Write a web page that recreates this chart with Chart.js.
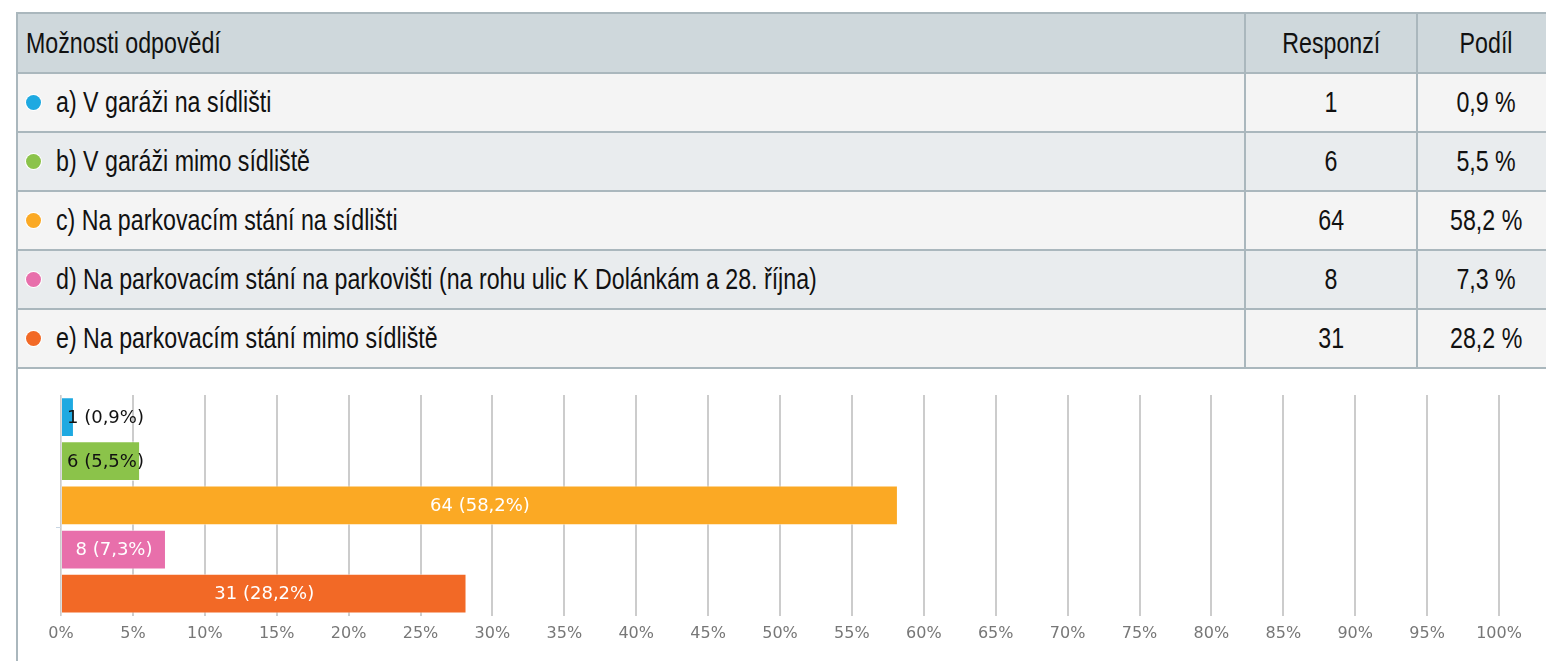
<!DOCTYPE html>
<html>
<head>
<meta charset="utf-8">
<script src="https://cdn.jsdelivr.net/npm/chart.js@4.4.1/dist/chart.umd.min.js"></script>
<style>
    body { margin: 0; background: #fff; width: 1546px; height: 661px; overflow: hidden; position: relative; }
    #tbl {
        position: absolute; left: 16px; top: 12px; width: 1540px;
        border-collapse: collapse;
        font-family: "Liberation Sans", Arial, sans-serif;
        font-size: 29px; color: #111;
    }
    #tbl th, #tbl td { border: 2px solid #aab7bd; padding: 0 8px; font-weight: normal; white-space: nowrap; }
    #tbl th { background: #cfd8dc; height: 58px; text-align: left; }
    #tbl td { height: 57px; }
    #tbl tr:nth-child(odd) td { background: #f4f4f4; }
    #tbl tr:nth-child(even) td { background: #e9ecee; }
    #tbl .num { text-align: center; }
    .nar { display: inline-block; transform: scaleX(0.8); transform-origin: left center; }
    .num .nar { transform-origin: center center; }
    .dot { display: inline-block; width: 15px; height: 15px; border-radius: 50%; margin: 0 15px 0 0; vertical-align: 2px; box-shadow: 0 0 0 1px #fff; }
    #box { position: absolute; left: 16px; top: 368px; width: 1530px; height: 293px; border-left: 2px solid #aab7bd; }
    #wrap { position: absolute; left: 18px; top: 370px; width: 1528px; height: 291px; }
</style>
</head>
<body>
<table id="tbl"><thead><tr><th><span class="nar">Možnosti odpovědí</span></th><th class="num" style="width:154px"><span class="nar">Responzí</span></th><th class="num" style="width:120px"><span class="nar">Podíl</span></th></tr></thead><tbody></tbody></table>
<div id="box"></div>
<div id="wrap"><canvas id="answersChart"></canvas></div>
<script>
// Survey data
const categories = [
    'a) V garáži na sídlišti',
    'b) V garáži mimo sídliště',
    'c) Na parkovacím stání na sídlišti',
    'd) Na parkovacím stání na parkovišti (na rohu ulic K Dolánkám a 28. října)',
    'e) Na parkovacím stání mimo sídliště'
];
const responses = [1, 6, 64, 8, 31];
const shares = [0.9, 5.5, 58.2, 7.3, 28.2];
const barColors = ['#1ea9e1', '#8bc34a', '#fba924', '#e86fab', '#f26926'];
const axisTicks = [0, 5, 10, 15, 20, 25, 30, 35, 40, 45, 50, 55, 60, 65, 70, 75, 80, 85, 90, 95, 100];

const fmt = v => v.toFixed(1).replace('.', ',');

// Table above the chart
const tbody = document.querySelector('#tbl tbody');
categories.forEach((c, i) => {
    const tr = document.createElement('tr');
    tr.innerHTML = '<td><span class="dot" style="background:' + barColors[i] + '"></span><span class="nar">' + c + '</span></td>' +
        '<td class="num"><span class="nar">' + responses[i] + '</span></td>' +
        '<td class="num"><span class="nar">' + fmt(shares[i]) + ' %</span></td>';
    tbody.appendChild(tr);
});

// Labels inside / beside bars
const barLabels = {
    id: 'barLabels',
    afterDatasetsDraw(chart) {
        const ctx = chart.ctx;
        const meta = chart.getDatasetMeta(0);
        ctx.save();
        ctx.font = '18px "DejaVu Sans", sans-serif';
        ctx.textBaseline = 'middle';
        meta.data.forEach((bar, i) => {
            const text = responses[i] + ' (' + fmt(shares[i]) + '%)';
            const w = ctx.measureText(text).width;
            const barW = bar.x - bar.base;
            if (w + 16 < barW) {
                ctx.fillStyle = '#fff';
                ctx.textAlign = 'center';
                ctx.fillText(text, (bar.x + bar.base) / 2, bar.y + 1);
            } else {
                ctx.fillStyle = '#111';
                ctx.textAlign = 'left';
                ctx.fillText(text, bar.base + 5, bar.y + 1);
            }
        });
        ctx.restore();
    }
};

function initChart() {
    const ctx = document.getElementById('answersChart').getContext('2d');
    new Chart(ctx, {
        type: 'bar',
        data: {
            labels: categories,
            datasets: [{
                data: shares,
                backgroundColor: barColors,
                borderColor: 'rgba(255,255,255,0.6)',
                borderWidth: 1,
                categoryPercentage: 0.9,
                barPercentage: 1
            }]
        },
        options: {
            indexAxis: 'y',
            responsive: true,
            maintainAspectRatio: false,
            animation: false,
            layout: { padding: { top: 25, left: 38, right: 47, bottom: 10 } },
            plugins: { legend: { display: false }, tooltip: { enabled: false } },
            scales: {
                x: {
                    min: 0, max: 100,
                    afterBuildTicks: axis => { axis.ticks = axisTicks.map(v => ({ value: v })); },
                    grid: { color: '#cccccc', lineWidth: 2, drawTicks: false },
                    border: { display: false },
                    ticks: { color: '#777', padding: 8, font: { family: 'DejaVu Sans', size: 16 }, callback: v => v + '%' }
                },
                y: {
                    grid: {
                        drawOnChartArea: false, tickLength: 5, offset: true,
                        tickColor: c => (c.index === 3 ? '#c9d6e3' : 'rgba(0,0,0,0)')
                    },
                    border: { color: '#dddddd', width: 1 },
                    ticks: { display: false }
                }
            }
        },
        plugins: [barLabels]
    });
}

document.addEventListener('DOMContentLoaded', initChart);
</script>
</body>
</html>
